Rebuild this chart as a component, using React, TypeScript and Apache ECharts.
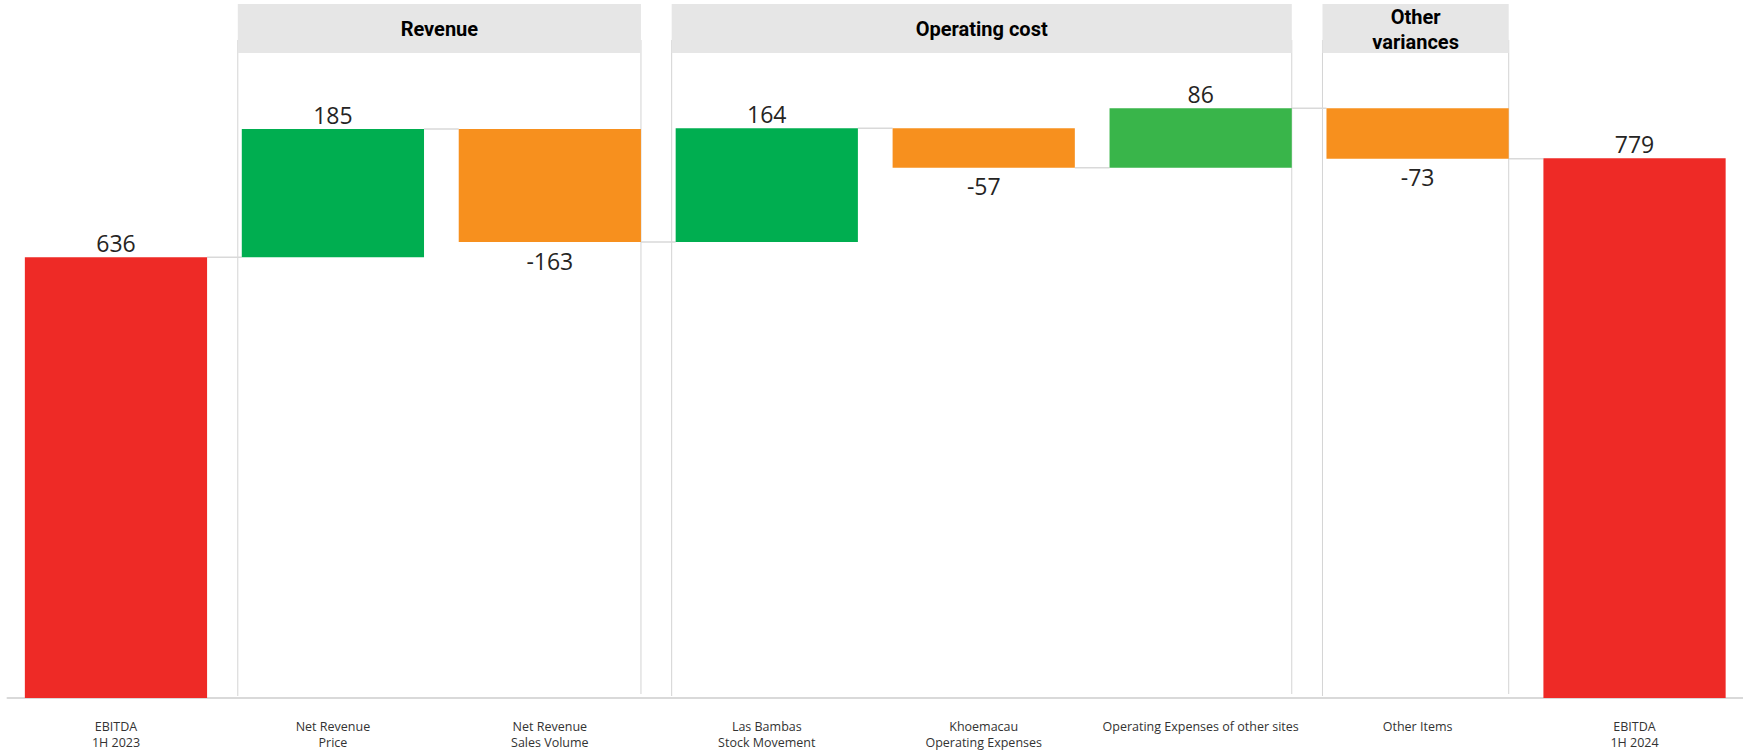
import React, { useEffect, useRef } from "react";
import * as echarts from "echarts";

const categories = [
  "EBITDA\n1H 2023",
  "Net Revenue\nPrice",
  "Net Revenue\nSales Volume",
  "Las Bambas\nStock Movement",
  "Khoemacau\nOperating Expenses",
  "Operating Expenses of other sites",
  "Other Items",
  "EBITDA\n1H 2024",
];
const values = [636, 185, -163, 164, -57, 86, -73, 779];
const isTotal = [true, false, false, false, false, false, false, true];
const barColors = ["#EE2A26", "#00AE50", "#F7901E", "#00AE50", "#F7901E", "#39B54A", "#F7901E", "#EE2A26"];

const groupNames = ["Revenue", "Operating cost", "Other\nvariances"];
const groupFrom = [1, 3, 6];
const groupTo = [2, 5, 6];

const BAR_RATIO = 0.84;

export default function App() {
  const ref = useRef<HTMLDivElement>(null);

  useEffect(() => {
    if (!ref.current) return;
    const chart = echarts.init(ref.current, null, { renderer: "svg" });

    const base: number[] = [];
    const visible: any[] = [];
    const connectors: number[][] = [];
    let running = 0;
    values.forEach((v, i) => {
      if (isTotal[i]) {
        base.push(0);
        running = v;
      } else {
        const next = running + v;
        base.push(Math.min(running, next));
        running = next;
      }
      visible.push({
        value: Math.abs(v),
        itemStyle: { color: barColors[i] },
        label: {
          position: v < 0 ? "bottom" : "top",
          distance: v < 0 ? 7 : 3,
          formatter: String(v),
        },
      });
      if (i < values.length - 1) connectors.push([i, running]);
    });

    const option: any = {
      animation: false,
      grid: { left: 7.5, right: 0, top: 5, bottom: 55, containLabel: false },
      xAxis: {
        type: "category",
        data: categories,
        axisLine: { show: true, lineStyle: { color: "#d9d9d9", width: 2 } },
        axisTick: { show: false },
        axisLabel: {
          interval: 0,
          margin: 20,
          color: "#333333",
          fontSize: 12.5,
          lineHeight: 16,
          fontFamily: "Open Sans",
          verticalAlign: "top",
        },
      },
      yAxis: { type: "value", show: false, min: 0, max: 1000, splitLine: { show: false } },
      series: [
        {
          type: "bar",
          stack: "wf",
          data: base,
          itemStyle: { color: "transparent" },
          barCategoryGap: "16%",
          silent: true,
        },
        {
          type: "bar",
          stack: "wf",
          data: visible,
          barCategoryGap: "16%",
          label: {
            show: true,
            fontSize: 23,
            fontFamily: "Open Sans",
            color: "#252423",
          },
        },
        {
          type: "custom",
          data: connectors,
          z: 1,
          renderItem: (params: any, api: any) => {
            const p = api.coord([api.value(0), api.value(1)]);
            const band = api.size([1, 0])[0];
            const half = (band * BAR_RATIO) / 2;
            return {
              type: "line",
              shape: { x1: p[0] + half, y1: p[1], x2: p[0] + band - half, y2: p[1] },
              style: { stroke: "#d9d9d9", lineWidth: 1.5 },
            };
          },
        },
      ],
    };
    chart.setOption(option);

    const cx = (i: number) => chart.convertToPixel({ xAxisIndex: 0 }, categories[i]) as number;
    const band = cx(1) - cx(0);
    const halfBar = (band * BAR_RATIO) / 2;
    const graphics: any[] = [];
    groupNames.forEach((name, g) => {
      const left = cx(groupFrom[g]) - halfBar - 4;
      const right = cx(groupTo[g]) + halfBar;
      graphics.push({
        type: "line",
        z: 0,
        shape: { x1: left, y1: 40, x2: left, y2: 696 },
        style: { stroke: "#d4d4d4", lineWidth: 1 },
      });
      graphics.push({
        type: "line",
        z: 0,
        shape: { x1: right, y1: 40, x2: right, y2: 694 },
        style: { stroke: "#d4d4d4", lineWidth: 1 },
      });
      graphics.push({
        type: "rect",
        z: 5,
        shape: { x: left, y: 4, width: right - left, height: 49 },
        style: { fill: "#E6E6E6" },
      });
      graphics.push({
        type: "text",
        z: 6,
        x: (left + right) / 2,
        y: 29,
        style: {
          text: name,
          fill: "#000000",
          font: "bold 20px Roboto",
          lineHeight: 25,
          align: "center",
          verticalAlign: "middle",
        },
      });
    });
    chart.setOption({ graphic: graphics });

    return () => chart.dispose();
  }, []);

  return (
    <div
      ref={ref}
      style={{ position: "fixed", left: 0, top: 0, width: 1743, height: 753, background: "#ffffff" }}
    />
  );
}
